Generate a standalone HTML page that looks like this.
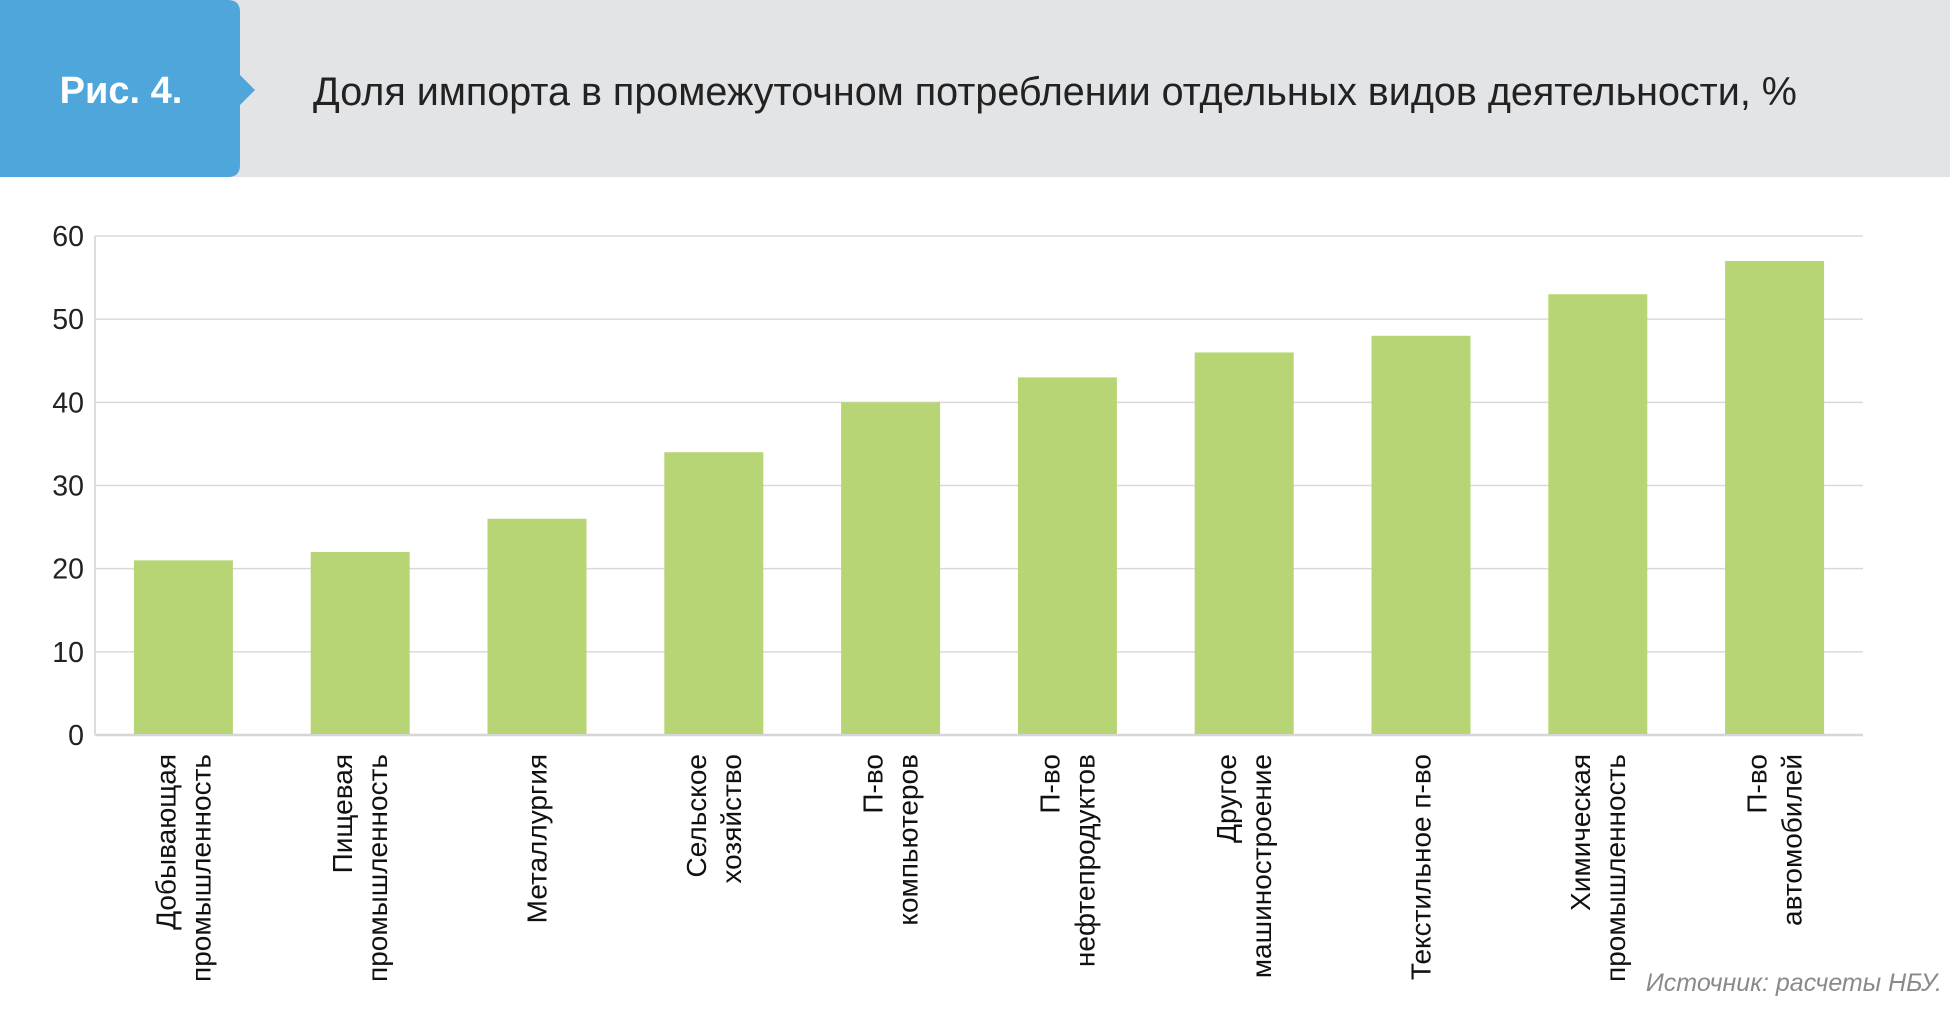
<!DOCTYPE html>
<html><head><meta charset="utf-8"><style>
body{margin:0;width:1950px;height:1005px;overflow:hidden;background:#fff;font-family:"Liberation Sans",sans-serif}
</style></head><body>
<svg width="1950" height="1005" xmlns="http://www.w3.org/2000/svg">
<rect x="0" y="0" width="1950" height="177" fill="#e3e4e6"/>
<path d="M0 0 H228 Q240 0 240 12 V75 L255 90 L240 105 V165 Q240 177 228 177 H0 Z" fill="#4fa6db"/>
<text x="121" y="103" text-anchor="middle" font-size="38" font-weight="bold" fill="#fff">Рис. 4.</text>
<text x="313" y="105" font-size="39.5" fill="#222">Доля импорта в промежуточном потреблении отдельных видов деятельности, %</text>
<g id="grid"></g><g id="bars"></g><g id="ylabels"></g><g id="xlabels"></g>
<text x="1942" y="991" text-anchor="end" font-size="25" font-style="italic" fill="#8a8a8a">Источник: расчеты НБУ.</text>
</svg>
<script>
const categories=[["Добывающая","промышленность"],["Пищевая","промышленность"],["Металлургия"],["Сельское","хозяйство"],["П-во","компьютеров"],["П-во","нефтепродуктов"],["Другое","машиностроение"],["Текстильное п-во"],["Химическая","промышленность"],["П-во","автомобилей"]];
const values=[21,22,26,34,40,43,46,48,53,57];
const yTicks=[0,10,20,30,40,50,60];
const NS="http://www.w3.org/2000/svg";
const L=95,R=1863,Y0=735,Y60=236;
const y=v=>Y0-(Y0-Y60)*v/60;
const band=(R-L)/categories.length;
const xc=i=>L+band*(i+0.5);
function mk(t,a,p){const e=document.createElementNS(NS,t);for(const k in a)e.setAttribute(k,a[k]);p.appendChild(e);return e;}
const g=document.getElementById('grid'),b=document.getElementById('bars'),yl=document.getElementById('ylabels'),xl=document.getElementById('xlabels');
yTicks.forEach(t=>{
 const ln=mk('line',{x1:L,x2:R,y1:y(t),y2:y(t),stroke:t===0?'#d6d6d6':'#d9d9d9','stroke-width':t===0?2.5:1.5},g);
 
 
 const tx=mk('text',{x:84,y:y(t)+10,'text-anchor':'end','font-size':28.5,fill:'#222'},yl);
 tx.textContent=t;
 
 
});
const ax=mk('line',{x1:L,x2:L,y1:Y60,y2:Y0,stroke:'#dcdcdc','stroke-width':2},g);


const bw=99;
values.forEach((v,i)=>{
 const r=mk('rect',{x:xc(i)-bw/2,y:y(v),width:bw,height:Y0-y(v)-1,fill:'#b8d576'},b);
 
 
 const lines=categories[i];
 lines.forEach((s,j)=>{
  const off=lines.length===1?0:(j===0?-17.5:17.5);
  const cx=xc(i)+off;
  const t=mk('text',{x:0,y:0,'text-anchor':'end','dominant-baseline':'central','font-size':28,fill:'#111',transform:`translate(${cx},754) rotate(-90)`},xl);
  t.textContent=s;
  
  
 });
});
</script>
</body></html>
